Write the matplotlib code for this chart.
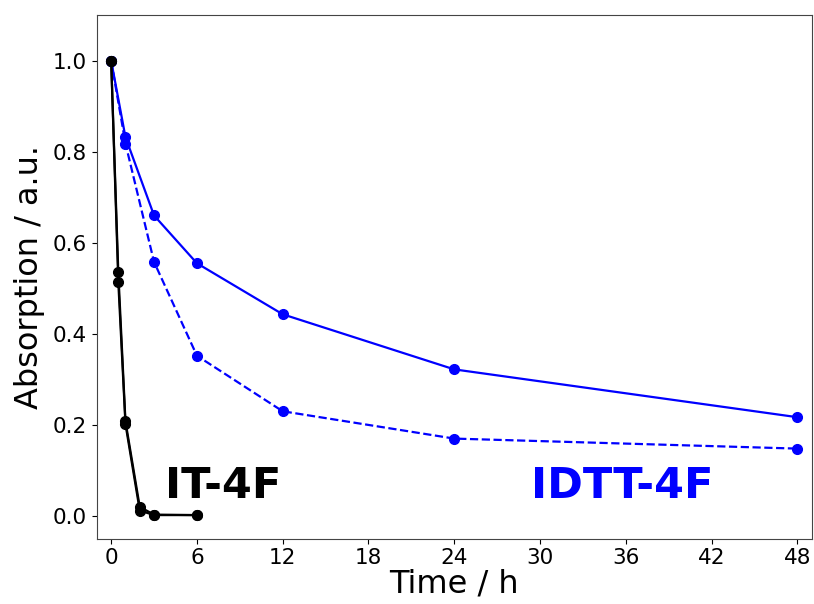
import matplotlib
matplotlib.use("Agg")
import matplotlib.pyplot as plt

# IT-4F (two runs, black)
it_t = [0, 0.5, 1, 2, 3, 6]
it_a1 = [1.0, 0.535, 0.208, 0.020, 0.003, 0.002]
it_a2 = [1.0, 0.513, 0.202, 0.012, 0.002, 0.002]

# IDTT-4F (blue solid and dashed)
idtt_t = [0, 1, 3, 6, 12, 24, 48]
idtt_solid = [1.0, 0.832, 0.660, 0.555, 0.443, 0.322, 0.217]
idtt_dashed = [1.0, 0.818, 0.558, 0.352, 0.230, 0.170, 0.148]

xticks = [0, 6, 12, 18, 24, 30, 36, 42, 48]

fig = plt.figure(figsize=(8.14, 6.04), dpi=100)
ax = fig.add_axes([0.119, 0.108, 0.878, 0.867])

ax.plot(idtt_t, idtt_solid, "-o", color="blue", lw=1.6, ms=7)
ax.plot(idtt_t, idtt_dashed, "--o", color="blue", lw=1.6, ms=7)
ax.plot(it_t, it_a1, "-o", color="black", lw=1.6, ms=7)
ax.plot(it_t, it_a2, "-o", color="black", lw=1.6, ms=7)

ax.text(3.75, 0.04, "IT-4F", fontsize=31, fontweight="bold", color="black")
ax.text(29.4, 0.04, "IDTT-4F", fontsize=31, fontweight="bold", color="blue")

for s in ax.spines.values():
    s.set_color("#444444")
ax.set_xlim(-1, 49)
ax.set_ylim(-0.05, 1.1)
ax.set_xticks(xticks)
ax.tick_params(labelsize=15.5)
ax.set_xlabel("Time / h", fontsize=23, labelpad=0)
ax.set_ylabel("Absorption / a.u.", fontsize=23, labelpad=6)

fig.savefig("out.png", dpi=100)
